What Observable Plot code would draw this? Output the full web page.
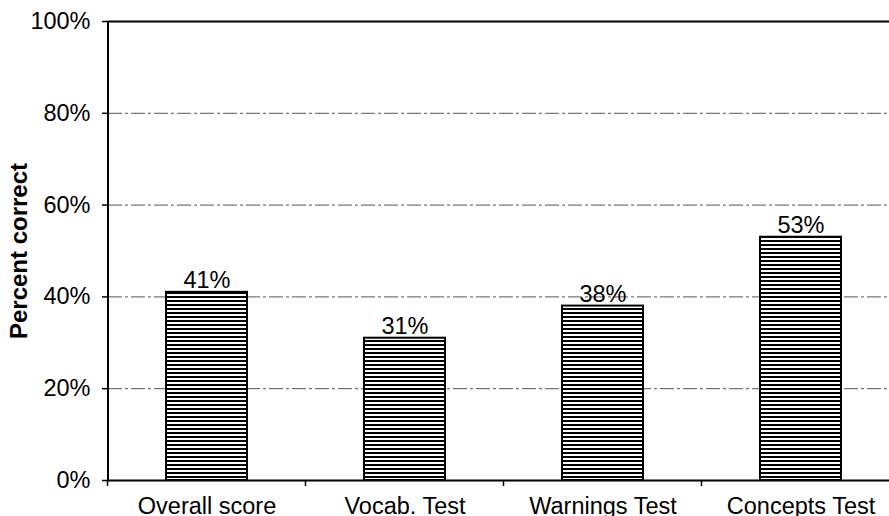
<!DOCTYPE html>
<html>
<head>
<meta charset="utf-8">
<script src="https://cdn.jsdelivr.net/npm/d3@7"></script>
<script src="https://cdn.jsdelivr.net/npm/@observablehq/plot@0.6"></script>
<style>
  html, body { margin: 0; padding: 0; background: white; overflow: hidden; }
</style>
</head>
<body>
<div id="chart"></div>
<script>
const categories = ["Overall score", "Vocab. Test", "Warnings Test", "Concepts Test"];
const values = [41, 31, 38, 53];
const yTicks = [0, 20, 40, 60, 80, 100];
const gridTicks = [20, 40, 60, 80];
const yTitle = "Percent correct";

const data = categories.map((c, i) => ({category: c, value: values[i]}));
const FONT = "'Liberation Sans', Arial, sans-serif";

const plot = Plot.plot({
  width: 889,
  height: 516,
  marginLeft: 108,
  marginRight: -11,
  marginTop: 21,
  marginBottom: 36,
  style: {fontFamily: FONT, fontSize: "23px", color: "black", background: "white", overflow: "visible"},
  x: {type: "band", domain: categories, paddingInner: 0.59, paddingOuter: 0.295},
  y: {domain: [0, 100]},
  marks: [
    Plot.ruleY(gridTicks, {stroke: "#555", strokeWidth: 1, strokeDasharray: "14,3,3,3"}),
    Plot.ruleY([100], {stroke: "black", strokeWidth: 2}),
    Plot.barY(data, {x: "category", y: "value", fill: "url(#stripes)", stroke: "black", strokeWidth: 2}),
    Plot.text(data, {x: "category", y: "value", text: d => d.value + "%", lineAnchor: "bottom", dy: -4, fontSize: 23.5, fill: "black"}),
    Plot.axisY({ticks: yTicks, tickFormat: d => d + "%", tickSize: 6, tickPadding: 12, fontSize: 23.5, label: null, strokeWidth: 1.5}),
    Plot.axisX({tickSize: 0, tickPadding: 17, fontSize: 23.5, label: null}),
    Plot.ruleY([0], {stroke: "black", strokeWidth: 2}),
    Plot.text([yTitle], {frameAnchor: "left", textAnchor: "middle", lineAnchor: "middle", rotate: -90, dx: -89, fontSize: 24, fontWeight: "bold", fill: "black"})
  ]
});

const svg = d3.select(plot);
const xs = plot.scale("x");
const ys = plot.scale("y");
const defs = svg.insert("defs", ":first-child");
const pat = defs.append("pattern")
  .attr("id", "stripes")
  .attr("patternUnits", "userSpaceOnUse")
  .attr("width", 8).attr("height", 4);
pat.append("rect").attr("width", 8).attr("height", 4).attr("fill", "white");
pat.append("rect").attr("width", 8).attr("height", 2).attr("fill", "black");

const x0 = xs.range[0];
const y0 = ys.apply(0), y100 = ys.apply(100);
const g = svg.append("g").attr("stroke", "black");
// y axis line
g.append("line").attr("x1", x0).attr("x2", x0).attr("y1", y100).attr("y2", y0).attr("stroke-width", 2);
// category boundary ticks on x axis
for (let i = 0; i <= categories.length; i++) {
  const c = categories[Math.min(i, categories.length - 1)];
  const center = xs.apply(c) + xs.bandwidth / 2;
  const bx = i < categories.length ? center - xs.step / 2 : center + xs.step / 2;
  g.append("line").attr("x1", bx).attr("x2", bx).attr("y1", y0).attr("y2", y0 + 6).attr("stroke-width", 1.5);
}

document.getElementById("chart").appendChild(plot);
</script>
</body>
</html>
